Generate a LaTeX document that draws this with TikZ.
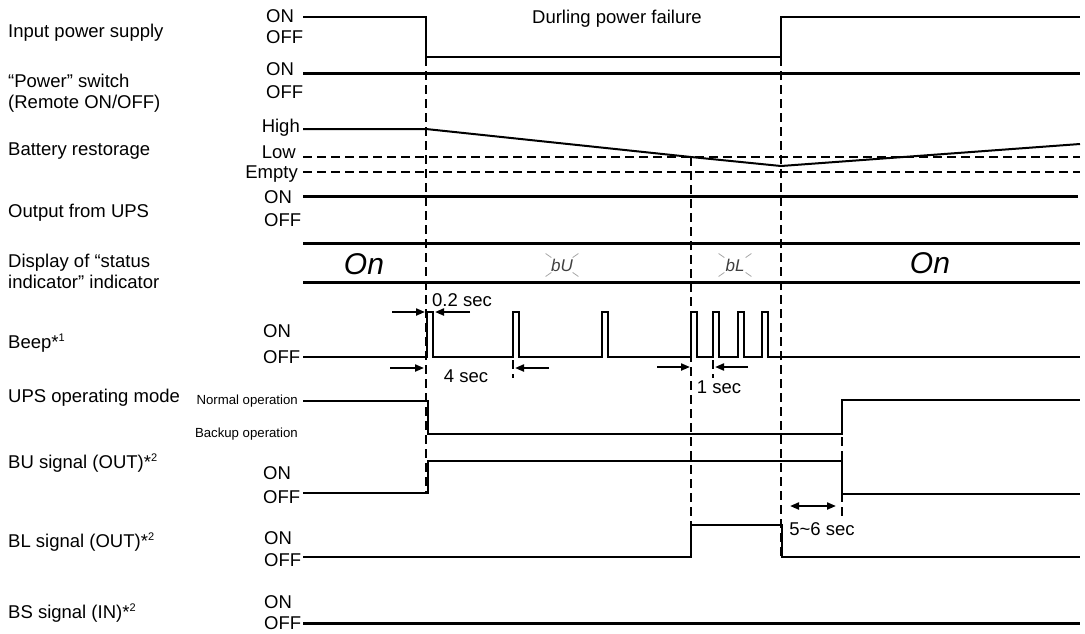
\documentclass[tikz,border=0pt]{standalone}
\usepackage{fontspec}
\setmainfont{Liberation Sans}
\usetikzlibrary{arrows.meta}
\newcommand{\noteref}[1]{*\raisebox{0.7ex}{\fontsize{11}{11}\selectfont #1}}

\begin{document}
\begin{tikzpicture}[
  x=1pt, y=-1pt,
  font=\fontsize{18.5}{21}\selectfont,
  sig/.style={line width=2pt},
  bus/.style={line width=3pt},
  guide/.style={line width=2pt, dash pattern=on 9pt off 5pt},
  dim/.style={-{Triangle[length=9pt,width=7pt]}, line width=2pt},
  signame/.style={anchor=west, align=left, inner sep=0pt},
  lvl/.style={anchor=west, inner sep=0pt},
  lvlr/.style={anchor=east, inner sep=0pt},
  opmode/.style={anchor=east, inner sep=0pt, font=\fontsize{13.2}{15}\selectfont},
  seg/.style={font=\fontsize{30}{30}\selectfont\itshape, inner sep=0pt},
  segs/.style={font=\fontsize{17}{17}\selectfont\itshape, text=black!75, inner sep=0pt},
  blink/.style={black!35, line width=0.8pt}
]
\useasboundingbox (0,0) rectangle (1085,633);

%% Signal names
\node[signame] (n_in)   at (8,33)  {Input power supply};
\node[signame] (n_sw)   at (8,93)  {“Power” switch\\(Remote ON/OFF)};
\node[signame] (n_bat)  at (8,151) {Battery restorage};
\node[signame] (n_out)  at (8,213) {Output from UPS};
\node[signame] (n_disp) at (8,271) {Display of “status\\indicator” indicator};
\node[signame] (n_beep) at (8,343) {Beep\noteref{1}};
\node[signame] (n_mode) at (8,398) {UPS operating mode};
\node[signame] (n_bu)   at (8,463) {BU signal (OUT)\noteref{2}};
\node[signame] (n_bl)   at (8,542) {BL signal (OUT)\noteref{2}};
\node[signame] (n_bs)   at (8,613) {BS signal (IN)\noteref{2}};

%% Levels
\node[lvl] (in_on)   at (266,16)  {ON};
\node[lvl] (in_off)  at (266,37)  {OFF};
\node[lvl] (sw_on)   at (266,69)  {ON};
\node[lvl] (sw_off)  at (266,92)  {OFF};
\node[lvlr] (b_high) at (300,128) {High};
\node[lvlr] (b_low)  at (296,152) {Low};
\node[lvlr] (b_empty) at (298,174) {Empty};
\node[lvl] (out_on)  at (264,197) {ON};
\node[lvl] (out_off) at (264,220) {OFF};
\node[lvl] (bp_on)   at (263,331) {ON};
\node[lvl] (bp_off)  at (263,357) {OFF};
\node[opmode] (m_norm) at (298,401) {Normal operation};
\node[opmode] (m_back) at (298,434) {Backup operation};
\node[lvl] (bu_on)   at (263,473) {ON};
\node[lvl] (bu_off)  at (263,497) {OFF};
\node[lvl] (bl_on)   at (264,538) {ON};
\node[lvl] (bl_off)  at (264,560) {OFF};
\node[lvl] (bs_on)   at (264,602) {ON};
\node[lvl] (bs_off)  at (264,623) {OFF};

%% Waveforms
\draw[sig] (303,17) -- (426,17) -- (426,57) -- (781,57) -- (781,17) -- (1080,17);
\node (fail) at (617,19) {Durling power failure};
\draw[bus] (303,73) -- (1080,73);
\draw[sig] (303,129) -- (426,129) -- (691,157) -- (781,166) -- (1080,144);
\draw[guide] (303,157) -- (1080,157);
\draw[guide] (303,172) -- (1080,172);
\draw[bus] (303,196) -- (1078,196);
\draw[bus] (303,243) -- (1080,243);
\draw[bus] (303,282) -- (1080,282);
\draw[sig] (303,357)
  foreach \p in {427,513,602,691,713,738,762} { -- (\p,357) -- (\p,312) -- (\p+6,312) -- (\p+6,357) }
  -- (1080,357);
\draw[sig] (303,401) -- (428,401) -- (428,434) -- (842,434) -- (842,400) -- (1080,400);
\draw[sig] (303,493) -- (428,493) -- (428,461) -- (842,461) -- (842,494) -- (1080,494);
\draw[sig] (303,557) -- (691,557) -- (691,525) -- (782,525) -- (782,557) -- (1080,557);
\draw[bus] (303,623) -- (1080,623);

%% Display
\node[seg]  (on1) at (364,264) {On};
\node[segs] (bu)  at (562,265) {bU};
\node[segs] (bl)  at (735,265) {bL};
\node[seg]  (on2) at (930,263) {On};
\foreach \a in {35,145,215,325} {
  \draw[blink] (bu.center) ++(\a:13) -- ++(\a:7);
  \draw[blink] (bl.center) ++(\a:13) -- ++(\a:7);
}

%% Time marks
\draw[guide] (426,57) -- (426,493);
\draw[guide] (691,157) -- (691,525);
\draw[guide] (781,57) -- (781,557);
\draw[guide] (842,437) -- (842,518);
\draw[guide] (513,360) -- (513,378);
\draw[guide] (713,360) -- (713,378);

%% Durations
\draw[dim] (392,312) -- (425,312);
\draw[dim] (470,312) -- (435,312);
\node (d02) at (462,300) {0.2 sec};
\draw[dim] (390,368) -- (424,368);
\draw[dim] (549,368) -- (515,368);
\node (d4) at (466,376) {4 sec};
\draw[dim] (657,367) -- (690,367);
\draw[dim] (748,367) -- (715,367);
\node (d1) at (719,387) {1 sec};
\draw[dim, {Triangle[length=9pt,width=7pt]}-{Triangle[length=9pt,width=7pt]}] (790,506) -- (836,506);
\node (d56) at (822,529) {5\textasciitilde6 sec};

\end{tikzpicture}
\end{document}
